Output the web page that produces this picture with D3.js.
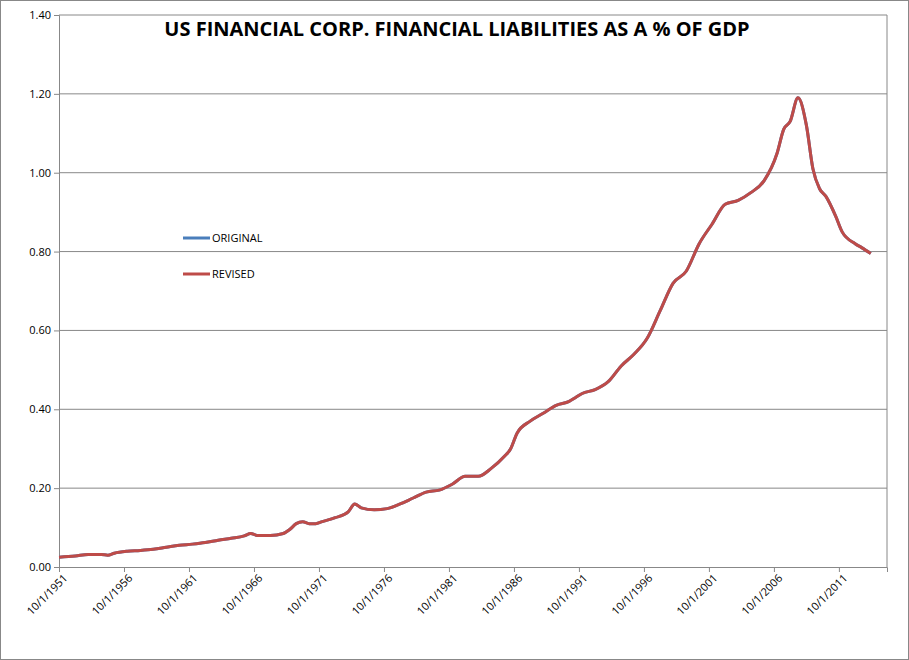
<!DOCTYPE html>
<html><head><meta charset="utf-8">
<script src="https://cdn.jsdelivr.net/npm/d3@7"></script>
<style>body{margin:0;background:#fff}svg{font-family:"Open Sans","Liberation Sans",sans-serif}</style>
</head><body><div id="container"></div>
<script>
const years = [1951.75,1953,1954,1955,1955.5,1956,1957,1958,1959,1960,1961,1962,1963,1964,1965,1966,1966.5,1967,1968,1969,1969.5,1970,1970.5,1971,1971.5,1972,1973,1974,1974.5,1975,1976,1977,1978,1979,1980,1981,1982,1983,1984,1985,1986,1986.5,1987,1988,1989,1990,1991,1991.5,1992,1993,1994,1995,1996,1997,1998,1999,2000,2001,2002,2003,2004,2005,2006,2007,2007.5,2008,2008.6,2009.25,2009.75,2010.25,2010.75,2011.5,2012,2013,2013.5,2014.2];
const revised = [0.025,0.028,0.032,0.032,0.030,0.035,0.040,0.042,0.045,0.050,0.055,0.058,0.062,0.068,0.073,0.079,0.085,0.080,0.080,0.085,0.095,0.110,0.115,0.110,0.110,0.115,0.125,0.140,0.160,0.150,0.145,0.148,0.160,0.175,0.190,0.195,0.210,0.230,0.230,0.250,0.280,0.300,0.340,0.370,0.390,0.410,0.420,0.430,0.440,0.450,0.470,0.510,0.540,0.580,0.650,0.720,0.750,0.820,0.870,0.920,0.930,0.950,0.980,1.050,1.110,1.130,1.190,1.120,1.010,0.960,0.940,0.890,0.850,0.820,0.810,0.795];
const original = revised.slice();
const tickYears = [1951,1956,1961,1966,1971,1976,1981,1986,1991,1996,2001,2006,2011];
const yTicks = [0,0.2,0.4,0.6,0.8,1.0,1.2,1.4];

const w = 909, h = 660;
const svg = d3.select("#container").append("svg").attr("width", w).attr("height", h);
svg.append("rect").attr("x",0.5).attr("y",0.5).attr("width",w-1).attr("height",h-1).attr("fill","none").attr("stroke","#888");

const x = d3.scaleLinear().domain([1951.75, 2015.45]).range([59, 887]);
const y = d3.scaleLinear().domain([0, 1.4]).range([567, 15]);

// gridlines
svg.append("g").selectAll("line").data(yTicks.slice(1)).enter().append("line")
  .attr("x1",59).attr("x2",887).attr("y1",d=>y(d)).attr("y2",d=>y(d)).attr("stroke","#888");
svg.append("line").attr("x1",887).attr("x2",887).attr("y1",15).attr("y2",567).attr("stroke","#888");

// y axis
svg.append("g").attr("transform","translate(59,0)")
  .call(d3.axisLeft(y).tickValues(yTicks).tickFormat(d3.format(".2f")).tickSize(5))
  .call(g=>{g.selectAll("text").attr("font-size",11).attr("fill","#000").attr("font-family","Open Sans, Liberation Sans, sans-serif");g.selectAll("line,path").attr("stroke","#888");});

// x axis
svg.append("g").attr("transform","translate(0,567)")
  .call(d3.axisBottom(x).tickValues(tickYears.map(t=>t+0.75)).tickFormat(d=>"10/1/"+Math.round(d-0.75)).tickSize(5))
  .call(g=>{g.select(".domain").attr("stroke","#888");g.selectAll("line").attr("stroke","#888");
    g.selectAll("text").attr("font-size",11).attr("fill","#000").attr("font-family","Open Sans, Liberation Sans, sans-serif")
     .attr("text-anchor","end").attr("dx","-0.2em").attr("dy","0.6em").attr("transform","rotate(-45)");});

const line = d3.line().x((d,i)=>x(years[i])).y(d=>y(d)).curve(d3.curveMonotoneX);
svg.append("path").datum(original).attr("d",line).attr("fill","none").attr("stroke","#4a7ebb").attr("stroke-width",3);
svg.append("path").datum(revised).attr("d",line).attr("fill","none").attr("stroke","#be4b48").attr("stroke-width",3);

// title
svg.append("text").attr("x",457).attr("y",36).attr("text-anchor","middle").attr("font-size",20).attr("font-weight","bold")
  .text("US FINANCIAL CORP. FINANCIAL LIABILITIES AS A % OF GDP");

// legend
const legend = [["ORIGINAL","#4a7ebb",238],["REVISED","#be4b48",274]];
legend.forEach(([t,c,yy])=>{
  svg.append("line").attr("x1",183).attr("x2",210).attr("y1",yy).attr("y2",yy).attr("stroke",c).attr("stroke-width",3);
  svg.append("text").attr("x",212).attr("y",yy+4).attr("font-size",11).text(t);
});
</script></body></html>
